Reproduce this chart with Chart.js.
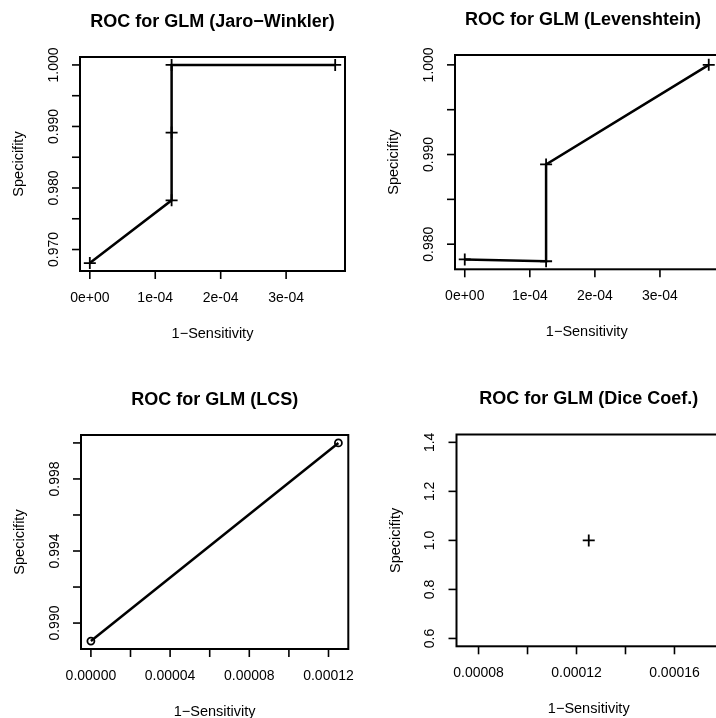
<!DOCTYPE html>
<html>
<head>
<meta charset="utf-8">
<script src="https://cdn.jsdelivr.net/npm/chart.js@4.4.1/dist/chart.umd.min.js"></script>
<style>
  html, body { margin: 0; padding: 0; background: #fff; overflow: hidden; width: 716px; height: 718px; }
  canvas { position: absolute; left: 0; top: 0; }
</style>
</head>
<body>
<canvas id="c1" width="760" height="718"></canvas>
<canvas id="c2" width="760" height="718"></canvas>
<canvas id="c3" width="760" height="718"></canvas>
<canvas id="c4" width="760" height="718"></canvas>
<script>
// --- Jaro-Winkler
const jwX = [0, 1.25e-4, 1.25e-4, 1.25e-4, 3.75e-4];
const jwY = [0.9678, 0.978, 0.989, 1.000, 1.000];
const jwXRange = [-0.15e-4, 3.9e-4];
const jwYRange = [0.96651, 1.00129];
const jwXTicks = [0, 1e-4, 2e-4, 3e-4];
const jwXLabels = ['0e+00', '1e-04', '2e-04', '3e-04'];
const jwYTicks = [0.970, 0.975, 0.980, 0.985, 0.990, 0.995, 1.000];
const jwYLabels = ['0.970', '', '0.980', '', '0.990', '', '1.000'];

// --- Levenshtein
const lvX = [0, 1.25e-4, 1.25e-4, 3.75e-4];
const lvY = [0.9783, 0.9781, 0.9889, 1.000];
const lvXRange = [-0.15e-4, 3.9e-4];
const lvYRange = [0.9772, 1.0011];
const lvXTicks = [0, 1e-4, 2e-4, 3e-4];
const lvXLabels = ['0e+00', '1e-04', '2e-04', '3e-04'];
const lvYTicks = [0.980, 0.985, 0.990, 0.995, 1.000];
const lvYLabels = ['0.980', '', '0.990', '', '1.000'];

// --- LCS
const lcsX = [0, 1.25e-4];
const lcsY = [0.989, 1.000];
const lcsXRange = [-0.05e-4, 1.30e-4];
const lcsYRange = [0.98856, 1.00044];
const lcsXTicks = [0, 2e-5, 4e-5, 6e-5, 8e-5, 10e-5, 12e-5];
const lcsXLabels = ['0.00000', '', '0.00004', '', '0.00008', '', '0.00012'];
const lcsYTicks = [0.990, 0.992, 0.994, 0.996, 0.998, 1.000];
const lcsYLabels = ['0.990', '', '0.994', '', '0.998', ''];

// --- Dice coefficient
const dcX = [1.25e-4];
const dcY = [1.0];
const dcXRange = [0.71e-4, 1.79e-4];
const dcYRange = [0.568, 1.432];
const dcXTicks = [8e-5, 10e-5, 12e-5, 14e-5, 16e-5, 18e-5];
const dcXLabels = ['0.00008', '', '0.00012', '', '0.00016', ''];
const dcYTicks = [0.6, 0.8, 1.0, 1.2, 1.4];
const dcYLabels = ['0.6', '0.8', '1.0', '1.2', '1.4'];

const FONT = '"Liberation Sans", Arial, Helvetica, sans-serif';

// R style box, ticks, labels and titles, positioned off the chart's own scales
const rAxes = {
  id: 'rAxes',
  afterDraw(chart, args, o) {
    const { ctx, chartArea: a, scales: { x, y } } = chart;
    ctx.save();
    ctx.strokeStyle = '#000';
    ctx.fillStyle = '#000';
    ctx.lineWidth = 2;
    ctx.strokeRect(a.left, a.top, a.right - a.left, a.bottom - a.top);

    ctx.lineWidth = 1.6;
    ctx.font = '14px ' + FONT;
    ctx.textAlign = 'center';
    ctx.textBaseline = 'middle';
    o.xTicks.forEach((t, i) => {
      const px = x.getPixelForValue(t);
      ctx.beginPath(); ctx.moveTo(px, a.bottom); ctx.lineTo(px, a.bottom + 8); ctx.stroke();
      if (o.xLabels[i]) ctx.fillText(o.xLabels[i], px, a.bottom + 27);
    });
    o.yTicks.forEach((t, i) => {
      const py = y.getPixelForValue(t);
      ctx.beginPath(); ctx.moveTo(a.left, py); ctx.lineTo(a.left - 8, py); ctx.stroke();
      if (o.yLabels[i]) {
        ctx.save();
        ctx.translate(a.left - 26, py);
        ctx.rotate(-Math.PI / 2);
        ctx.fillText(o.yLabels[i], 0, 0);
        ctx.restore();
      }
    });

    ctx.font = '14.5px ' + FONT;
    const cx = (a.left + a.right) / 2, cy = (a.top + a.bottom) / 2;
    ctx.fillText('1\u2212Sensitivity', cx, a.bottom + 63);
    ctx.save();
    ctx.translate(a.left - 61, cy);
    ctx.rotate(-Math.PI / 2);
    ctx.fillText('Specicifity', 0, 0);
    ctx.restore();

    ctx.font = 'bold 18px ' + FONT;
    ctx.fillText(o.title, o.titleX ?? cx, a.top - 35);
    ctx.restore();
  }
};

const panels = [
  { id: 'c1', title: 'ROC for GLM (Jaro\u2212Winkler)', xs: jwX, ys: jwY, xr: jwXRange, yr: jwYRange,
    xTicks: jwXTicks, xLabels: jwXLabels, yTicks: jwYTicks, yLabels: jwYLabels,
    pad: { left: 80, top: 57, right: 415, bottom: 447 }, style: 'cross', radius: 6, line: true },
  { id: 'c2', title: 'ROC for GLM (Levenshtein)', xs: lvX, ys: lvY, xr: lvXRange, yr: lvYRange,
    xTicks: lvXTicks, xLabels: lvXLabels, yTicks: lvYTicks, yLabels: lvYLabels, titleX: 583,
    pad: { left: 455, top: 55, right: 41.5, bottom: 448.7 }, style: 'cross', radius: 6, line: true },
  { id: 'c3', title: 'ROC for GLM (LCS)', xs: lcsX, ys: lcsY, xr: lcsXRange, yr: lcsYRange,
    xTicks: lcsXTicks, xLabels: lcsXLabels, yTicks: lcsYTicks, yLabels: lcsYLabels,
    pad: { left: 81, top: 435, right: 411.7, bottom: 69 }, style: 'circle', radius: 3.5, line: true },
  { id: 'c4', title: 'ROC for GLM (Dice Coef.)', xs: dcX, ys: dcY, xr: dcXRange, yr: dcYRange,
    xTicks: dcXTicks, xLabels: dcXLabels, yTicks: dcYTicks, yLabels: dcYLabels,
    pad: { left: 456.5, top: 434.5, right: 39, bottom: 71.7 }, style: 'cross', radius: 6, line: false }
];

panels.forEach(p => {
  new Chart(document.getElementById(p.id), {
    type: 'scatter',
    data: {
      datasets: [{
        data: p.xs.map((v, i) => ({ x: v, y: p.ys[i] })),
        showLine: p.line,
        borderColor: '#000',
        borderWidth: 2.5,
        tension: 0,
        pointStyle: p.style,
        pointRadius: p.radius,
        pointBorderColor: '#000',
        pointBackgroundColor: 'rgba(0,0,0,0)',
        pointBorderWidth: 1.8,
        clip: false
      }]
    },
    options: {
      responsive: false,
      animation: false,
      events: [],
      layout: { padding: p.pad },
      scales: {
        x: { type: 'linear', display: false, min: p.xr[0], max: p.xr[1] },
        y: { type: 'linear', display: false, min: p.yr[0], max: p.yr[1] }
      },
      plugins: {
        legend: { display: false },
        tooltip: { enabled: false },
        rAxes: { title: p.title, titleX: p.titleX, xTicks: p.xTicks, xLabels: p.xLabels, yTicks: p.yTicks, yLabels: p.yLabels }
      }
    },
    plugins: [rAxes]
  });
});
</script>
</body>
</html>
